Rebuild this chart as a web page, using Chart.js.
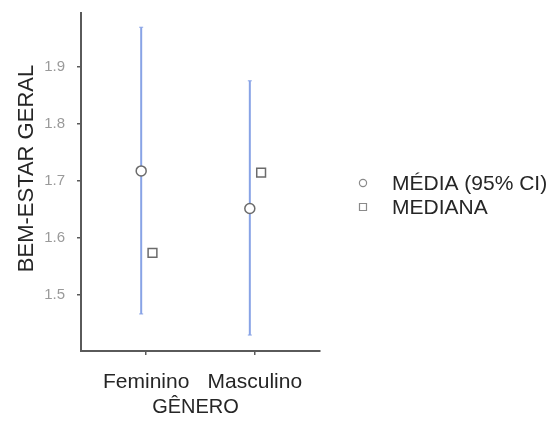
<!DOCTYPE html>
<html>
<head>
<meta charset="utf-8">
<script src="https://cdn.jsdelivr.net/npm/chart.js@4/dist/chart.umd.min.js"></script>
<style>
  html, body { margin: 0; padding: 0; background: #ffffff; }
  #wrap { width: 560px; height: 423px; }
</style>
</head>
<body>
<div id="wrap"><canvas id="c" width="560" height="423"></canvas></div>
<script>
// ---- data ----
const categories = ['Feminino', 'Masculino'];
const meanValues = [1.717, 1.651];
const ciLow = [1.466, 1.429];
const ciHigh = [1.969, 1.875];
const medianValues = [1.573, 1.714];
const yTickValues = [1.5, 1.6, 1.7, 1.8, 1.9];
const seriesLabels = ['MÉDIA (95% CI)', 'MEDIANA'];
const xTitle = 'GÊNERO';
const yTitle = 'BEM-ESTAR GERAL';

// ---- style ----
const meanOffset = -0.046;
const medianOffset = 0.058;
const barColor = '#88a3e6';
const axisColor = '#5a5a5a';
const textColor = '#262626';
const fontFam = 'Arial, "Liberation Sans", sans-serif';

const catX = categories.map((c, i) => i + 1);

const datasets = [];
categories.forEach((c, i) => {
  datasets.push({
    type: 'line',
    label: 'ci' + i,
    data: [{ x: catX[i] + meanOffset, y: ciLow[i] }, { x: catX[i] + meanOffset, y: ciHigh[i] }],
    borderColor: barColor,
    borderWidth: 2,
    pointStyle: 'line',
    pointRadius: 2,
    pointBorderColor: barColor,
    pointBorderWidth: 1,
    fill: false,
    order: 3
  });
});
datasets.push({
  type: 'scatter',
  label: seriesLabels[0],
  data: catX.map((x, i) => ({ x: x + meanOffset, y: meanValues[i] })),
  pointStyle: 'circle',
  pointRadius: 5,
  pointBackgroundColor: '#ffffff',
  pointBorderColor: '#6b6b6b',
  pointBorderWidth: 1.5,
  order: 1
});
datasets.push({
  type: 'scatter',
  label: seriesLabels[1],
  data: catX.map((x, i) => ({ x: x + medianOffset, y: medianValues[i] })),
  pointStyle: 'rect',
  pointRadius: 6.2,
  pointBackgroundColor: '#ffffff',
  pointBorderColor: '#6b6b6b',
  pointBorderWidth: 1.5,
  order: 1
});

const titlesPlugin = {
  id: 'titles',
  afterDraw(chart) {
    const ctx = chart.ctx;
    const ca = chart.chartArea;
    ctx.save();
    ctx.fillStyle = textColor;
    // y title
    ctx.font = '22px ' + fontFam;
    ctx.textAlign = 'center';
    ctx.textBaseline = 'middle';
    ctx.translate(27, (ca.top + ca.bottom) / 2 - 13.5);
    ctx.rotate(-Math.PI / 2);
    ctx.fillText(yTitle, 0, 0);
    ctx.restore();

    ctx.save();
    ctx.fillStyle = textColor;
    ctx.font = '20px ' + fontFam;
    ctx.textAlign = 'center';
    ctx.textBaseline = 'alphabetic';
    ctx.fillText(xTitle, (ca.left + ca.right) / 2 - 5, 413);
    ctx.restore();

    // legend
    ctx.save();
    const lx = 363;
    const ly = [183, 207];
    ctx.strokeStyle = '#8a8a8a';
    ctx.lineWidth = 1.2;
    ctx.fillStyle = '#ffffff';
    ctx.beginPath();
    ctx.arc(lx, ly[0], 3.6, 0, Math.PI * 2);
    ctx.fill(); ctx.stroke();
    ctx.beginPath();
    ctx.rect(lx - 3.5, ly[1] - 3.5, 7, 7);
    ctx.fill(); ctx.stroke();
    ctx.fillStyle = textColor;
    ctx.font = '21px ' + fontFam;
    ctx.textAlign = 'left';
    ctx.textBaseline = 'middle';
    seriesLabels.forEach((t, i) => ctx.fillText(t, 392, ly[i] + 1));
    ctx.restore();
  }
};

new Chart(document.getElementById('c'), {
  data: { datasets },
  options: {
    responsive: false,
    animation: false,
    devicePixelRatio: 1,
    layout: { padding: { left: 0, top: 13, right: 240, bottom: 0 }, autoPadding: false },
    plugins: { legend: { display: false }, tooltip: { enabled: false } },
    scales: {
      x: {
        type: 'linear',
        min: 0.4,
        max: 2.6,
        afterBuildTicks: (s) => { s.ticks = catX.map(v => ({ value: v })); },
        afterFit: (s) => { s.height = 72; s.paddingLeft = 0; s.paddingRight = 0; },
        ticks: {
          callback: (v) => categories[Math.round(v) - 1] || '',
          color: textColor,
          font: { size: 21, family: fontFam },
          padding: 15,
          maxRotation: 0,
          autoSkip: false
        },
        grid: { drawOnChartArea: false, drawTicks: true, tickLength: 4, color: axisColor, lineWidth: 1.5 },
        border: { display: true, color: axisColor, width: 2 }
      },
      y: {
        type: 'linear',
        min: 1.401,
        max: 1.994,
        afterBuildTicks: (s) => { s.ticks = yTickValues.map(v => ({ value: v })); },
        afterFit: (s) => { s.width = 81; s.paddingTop = 0; s.paddingBottom = 0; },
        ticks: {
          callback: (v) => v.toFixed(1),
          color: '#9a9a9a',
          font: { size: 15, family: fontFam },
          padding: 12
        },
        grid: { drawOnChartArea: false, drawTicks: true, tickLength: 4, color: axisColor, lineWidth: 1.5 },
        border: { display: true, color: axisColor, width: 2 }
      }
    }
  },
  plugins: [titlesPlugin]
});
</script>
</body>
</html>
